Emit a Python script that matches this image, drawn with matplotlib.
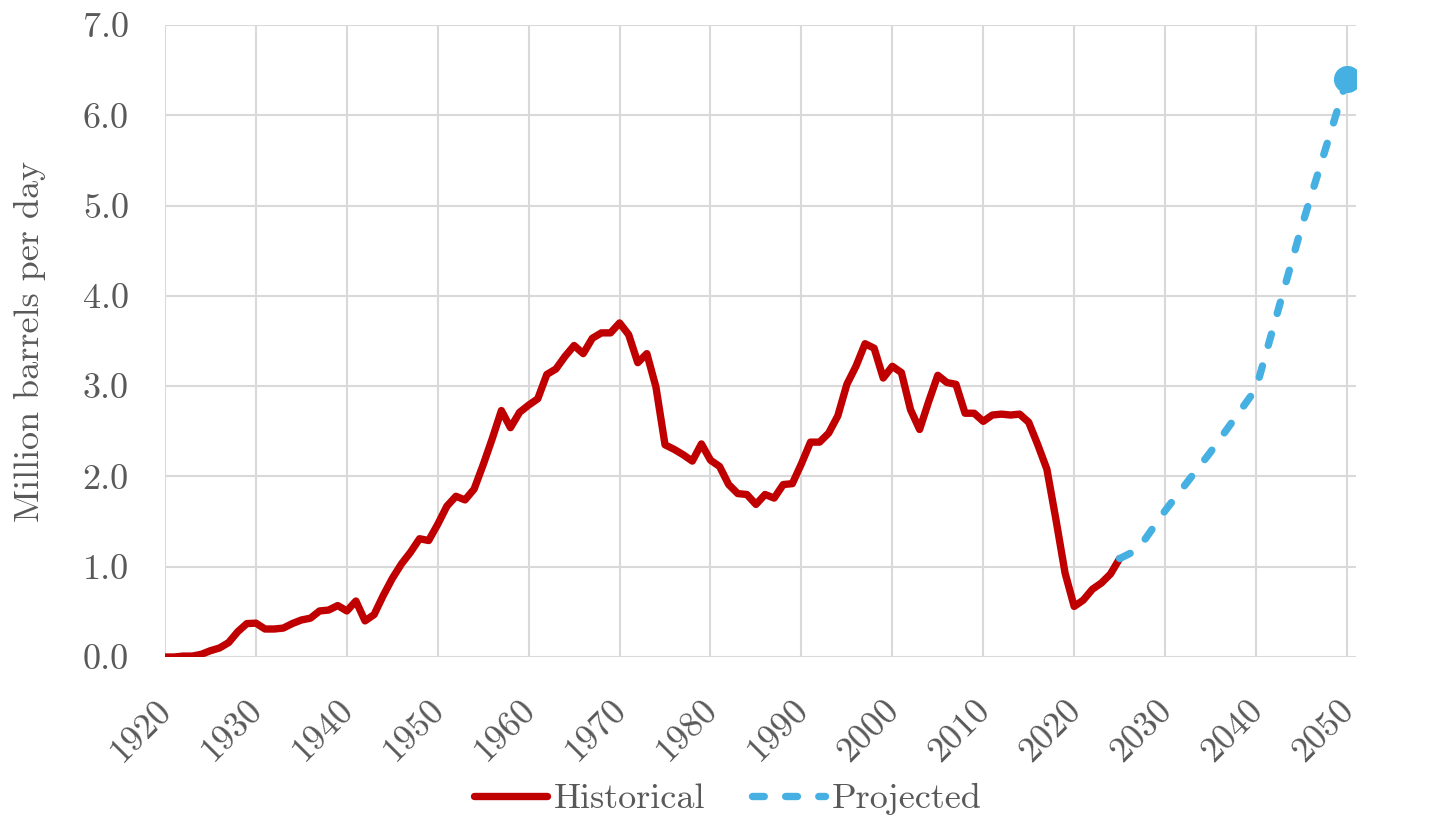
import matplotlib
matplotlib.use("Agg")
import matplotlib.pyplot as plt
from matplotlib.ticker import FormatStrFormatter
from matplotlib.transforms import ScaledTranslation

# ---- data ----
hist_years = list(range(1920, 2026))
hist_values = [
    0.00, 0.00, 0.01, 0.01, 0.03, 0.07, 0.10, 0.16, 0.28, 0.37,   # 1920-1929
    0.375, 0.31, 0.31, 0.32, 0.37, 0.41, 0.43, 0.51, 0.52, 0.57,  # 1930-1939
    0.51, 0.62, 0.40, 0.47, 0.68, 0.87, 1.03, 1.16, 1.31, 1.29,   # 1940-1949
    1.47, 1.67, 1.78, 1.74, 1.86, 2.13, 2.42, 2.73, 2.54, 2.71,   # 1950-1959
    2.79, 2.86, 3.13, 3.19, 3.33, 3.45, 3.36, 3.53, 3.59, 3.59,   # 1960-1969
    3.70, 3.57, 3.26, 3.36, 2.99, 2.35, 2.30, 2.24, 2.17, 2.36,   # 1970-1979
    2.18, 2.11, 1.91, 1.81, 1.80, 1.69, 1.80, 1.76, 1.91, 1.92,   # 1980-1989
    2.14, 2.38, 2.38, 2.48, 2.67, 3.02, 3.22, 3.47, 3.42, 3.09,   # 1990-1999
    3.22, 3.15, 2.74, 2.52, 2.83, 3.12, 3.04, 3.02, 2.70, 2.70,   # 2000-2009
    2.61, 2.68, 2.69, 2.68, 2.69, 2.60, 2.35, 2.08, 1.52, 0.93,   # 2010-2019
    0.56, 0.63, 0.75, 0.82, 0.92, 1.09,                           # 2020-2025
]
proj_years = [2025, 2027, 2030, 2035, 2040, 2045, 2050]
proj_values = [1.09, 1.19, 1.62, 2.27, 2.97, 4.76, 6.40]

x_ticks = list(range(1920, 2051, 10))
y_ticks = [0, 1, 2, 3, 4, 5, 6, 7]
series_labels = ["Historical", "Projected"]
y_label = "Million barrels per day"

# ---- style ----
RED = "#C00000"
BLUE = "#45B0E1"
GRID = "#D9D9D9"
TXT = "#595959"
FS = 26

plt.rcParams["font.family"] = ["cmr10", "DejaVu Serif"]
plt.rcParams["axes.formatter.use_mathtext"] = True
plt.rcParams["mathtext.fontset"] = "cm"

fig = plt.figure(figsize=(14.56, 8.33), dpi=100)
ax = fig.add_axes([165 / 1456, 1 - 657 / 833, (1356 - 165) / 1456, (657 - 25) / 833])

ax.plot(hist_years, hist_values, color=RED, lw=5.3, solid_capstyle="round",
        solid_joinstyle="round", label=series_labels[0], zorder=3)
ax.plot(proj_years, proj_values, color=BLUE, lw=5.3, linestyle=(0, (1.6, 2.9)),
        dash_capstyle="round", dash_joinstyle="round",
        label=series_labels[1], zorder=3)
ax.plot(proj_years[-1:], proj_values[-1:], "o", color=BLUE, markersize=18.5,
        zorder=4)

ax.set_xlim(1920, 2051)
ax.set_ylim(0, 7)
ax.set_xticks(x_ticks)
ax.set_yticks(y_ticks)
ax.yaxis.set_major_formatter(FormatStrFormatter("%.1f"))
ax.set_xticklabels([str(t) for t in x_ticks], rotation=45, ha="right",
                   va="top", rotation_mode="anchor")

ax.grid(True, color=GRID, lw=1.5, zorder=0)
ax.set_axisbelow(True)
for s in ax.spines.values():
    s.set_visible(False)
ax.tick_params(axis="both", length=0, labelsize=FS, labelcolor=TXT)
ax.tick_params(axis="x", pad=23)
ax.tick_params(axis="y", pad=26)

shift = ScaledTranslation(-9 / 100, -5 / 100, fig.dpi_scale_trans)
for lbl in ax.get_xticklabels():
    lbl.set_transform(lbl.get_transform() + shift)

ax.set_ylabel(y_label, fontsize=FS, color=TXT)
ax.yaxis.set_label_coords(-0.1, 0.5)

leg = fig.legend(loc="lower center", bbox_to_anchor=(0.5, -0.018), ncol=2,
                 frameon=False, fontsize=FS, handlelength=2.0,
                 handletextpad=0.2, columnspacing=1.3)
for t in leg.get_texts():
    t.set_color(TXT)

fig.savefig("out.png", dpi=100, facecolor="white")
